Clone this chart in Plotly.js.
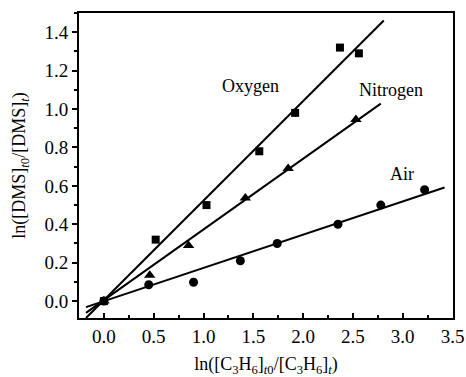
<!DOCTYPE html>
<html><head><meta charset="utf-8">
<script src="https://cdn.plot.ly/plotly-3.0.1.min.js"></script>
<style>body{margin:0;background:#fff}#c{width:466px;height:377px}</style>
</head><body><div id="c"></div>
<script>
const oxyX = [0, 0.52, 1.03, 1.56, 1.92, 2.37, 2.56];
const oxyY = [0, 0.32, 0.50, 0.78, 0.98, 1.32, 1.29];
const nitX = [0, 0.46, 0.85, 1.42, 1.85, 2.53];
const nitY = [0, 0.135, 0.29, 0.537, 0.69, 0.945];
const airX = [0, 0.45, 0.90, 1.37, 1.74, 2.35, 2.78, 3.22];
const airY = [0, 0.085, 0.098, 0.21, 0.30, 0.40, 0.50, 0.58];
// fitted lines (slope, intercept, x-extent)
const oxyFit = {slope: 0.518, icpt: 0.005, x: [-0.18, 2.81]};
const nitFit = {slope: 0.368, icpt: 0.005, x: [-0.18, 2.78]};
const airFit = {slope: 0.173, icpt: 0.0, x: [-0.18, 3.42]};
const labels = ["Oxygen", "Nitrogen", "Air"];
const labelPos = [[1.47, 1.12], [2.88, 1.1], [2.99, 0.66]];
const xTicks = [0, 0.5, 1, 1.5, 2, 2.5, 3, 3.5];
const xTickText = ['0.0','0.5','1.0','1.5','2.0','2.5','3.0','3.5'];
const yTicks = [0, 0.2, 0.4, 0.6, 0.8, 1.0, 1.2, 1.4];
const yTickText = ['0.0','0.2','0.4','0.6','0.8','1.0','1.2','1.4'];

function fitTrace(f){
  return {x: f.x, y: f.x.map(v => f.slope*v + f.icpt), mode: 'lines',
    line: {color: '#000', width: 2}, hoverinfo: 'skip', showlegend: false};
}
const traces = [
  fitTrace(oxyFit), fitTrace(nitFit), fitTrace(airFit),
  {x: oxyX, y: oxyY, mode: 'markers', marker: {symbol: 'square', size: 8, color: '#000'}, showlegend: false},
  {x: nitX, y: nitY, mode: 'markers', marker: {symbol: 'triangle-up', size: 10, color: '#000'}, showlegend: false},
  {x: airX, y: airY, mode: 'markers', marker: {symbol: 'circle', size: 9, color: '#000'}, showlegend: false}
];
const fam = '"Liberation Serif", "Times New Roman", serif';
const f = s => ({family: fam, size: s, color: '#000'});
const layout = {
  width: 466, height: 377,
  margin: {l: 79, r: 13, t: 13, b: 59},
  paper_bgcolor: '#fff', plot_bgcolor: '#fff',
  font: f(18),
  xaxis: {
    range: [-0.25, 3.505], tickvals: xTicks, ticktext: xTickText,
    ticklabeloverflow: 'allow',
    ticks: 'inside', ticklen: 5, tickwidth: 2, tickcolor: '#000',
    minor: {dtick: 0.25, tick0: 0, ticks: 'inside', ticklen: 3, tickwidth: 2, tickcolor: '#000'},
    showline: true, linewidth: 2, linecolor: '#000', mirror: true,
    showgrid: false, zeroline: false,
    tickfont: f(19),
    title: {text: 'ln([C<sub>3</sub>H<sub>6</sub>]<sub><i>t</i>0</sub>/[C<sub>3</sub>H<sub>6</sub>]<sub><i>t</i></sub>)', font: f(18), standoff: 14}
  },
  yaxis: {
    range: [-0.088, 1.5], tickvals: yTicks, ticktext: yTickText,
    ticks: 'outside', ticklen: 5, tickwidth: 2, tickcolor: '#000',
    minor: {dtick: 0.1, tick0: 0, ticks: 'outside', ticklen: 3, tickwidth: 2, tickcolor: '#000'},
    showline: true, linewidth: 2, linecolor: '#000', mirror: true,
    showgrid: false, zeroline: false,
    tickfont: f(19),
    title: {text: 'ln([DMS]<sub><i>t</i>0</sub>/[DMS]<sub><i>t</i></sub>)', font: f(18), standoff: 14}
  },
  annotations: labels.map((t, i) => ({x: labelPos[i][0], y: labelPos[i][1], text: t, showarrow: false,
    font: f(18)}))
};
Plotly.newPlot('c', traces, layout, {staticPlot: true, displayModeBar: false});
</script></body></html>
